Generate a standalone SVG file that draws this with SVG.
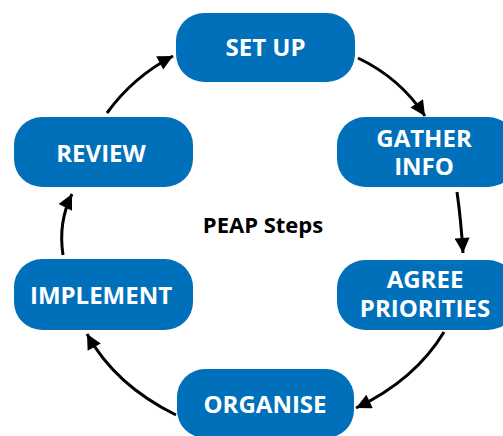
<svg xmlns="http://www.w3.org/2000/svg" width="503" height="436" viewBox="0 0 503 436">
  <defs>
    <marker id="arrow" viewBox="0 0 10 10" refX="10" refY="5" markerWidth="6" markerHeight="5" markerUnits="strokeWidth" orient="auto">
      <path d="M0,0 L10,5 L0,10 z" fill="#000"/>
    </marker>
    <style>
      .box { fill: #0070BB; }
      .lbl { font-family: "Open Sans", "Noto Sans", "Liberation Sans", sans-serif; font-weight: bold; font-size: 24px; fill: #fff; text-anchor: middle; }
      .title { font-family: "Open Sans", "Noto Sans", "Liberation Sans", sans-serif; font-weight: bold; font-size: 22px; fill: #000; text-anchor: middle; }
      .conn { fill: none; stroke: #000; stroke-width: 3; marker-end: url(#arrow); }
    </style>
  </defs>
  <rect width="503" height="436" fill="#fff"/>

  <g id="connectors">
    <path class="conn" d="M358,58 Q400,78 425,116"/>
    <path class="conn" d="M457,192 Q461,220 463,253"/>
    <path class="conn" d="M444,332 Q415,380 356,408"/>
    <path class="conn" d="M176,415 Q115,385 87,334"/>
    <path class="conn" d="M63,255 Q58,222 72,194"/>
    <path class="conn" d="M107,113 Q133,77 173,56"/>
  </g>

  <g id="setup">
    <rect class="box" x="176" y="13" width="179" height="69" rx="28"/>
    <text class="lbl" x="265.5" y="56">SET UP</text>
  </g>
  <g id="gather">
    <rect class="box" x="337" y="117" width="179" height="70" rx="28"/>
    <text class="lbl" x="424" y="147">GATHER</text>
    <text class="lbl" x="424" y="175">INFO</text>
  </g>
  <g id="agree">
    <rect class="box" x="337" y="260" width="179" height="70" rx="28"/>
    <text class="lbl" x="425" y="288">AGREE</text>
    <text class="lbl" x="425" y="317">PRIORITIES</text>
  </g>
  <g id="organise">
    <rect class="box" x="177" y="369" width="177" height="69" rx="28"/>
    <text class="lbl" x="265" y="413">ORGANISE</text>
  </g>
  <g id="implement">
    <rect class="box" x="14" y="259" width="179" height="71" rx="28"/>
    <text class="lbl" x="101" y="304">IMPLEMENT</text>
  </g>
  <g id="review">
    <rect class="box" x="14" y="117" width="179" height="70" rx="28"/>
    <text class="lbl" x="101" y="162">REVIEW</text>
  </g>

  <g id="title">
    <text class="title" x="263" y="233">PEAP Steps</text>
  </g>
</svg>
